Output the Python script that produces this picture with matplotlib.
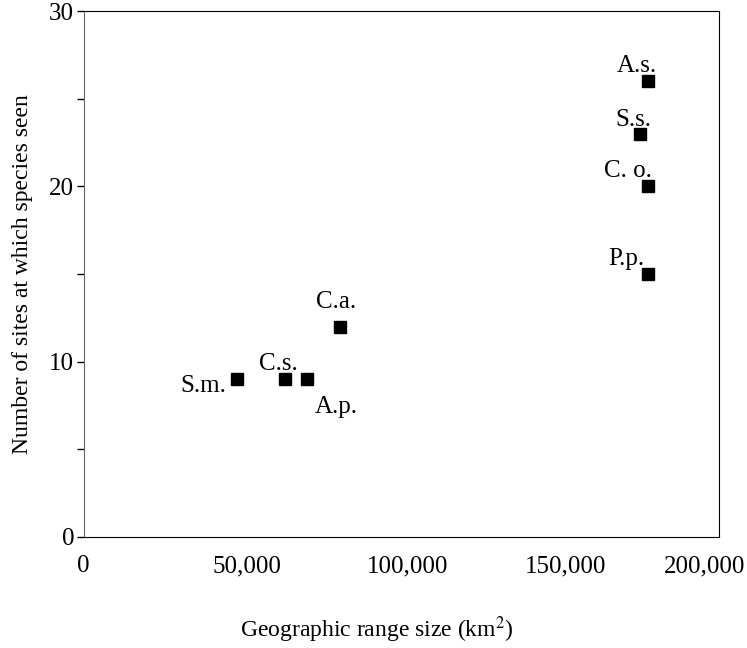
import matplotlib.pyplot as plt
from matplotlib.ticker import FuncFormatter
from matplotlib.transforms import ScaledTranslation

plt.rcParams['font.family'] = ['Liberation Serif', 'DejaVu Serif']
plt.rcParams['mathtext.fontset'] = 'stix'

species = ['A.s.', 'S.s.', 'C. o.', 'P.p.', 'C.a.', 'C.s.', 'A.p.', 'S.m.']
range_size = [177600, 175100, 177600, 177600, 80600, 63300, 70400, 48200]
sites = [26, 23, 20, 15, 12, 9, 9, 9]
# label offsets in pixels from the marker
offsets = [(-11, 9), (-7, 8), (-20, 9), (-22, 9), (-4, 19), (-7, 9), (29, -34), (-34, -13)]

x_ticks = [0, 50000, 100000, 150000, 200000]
# small horizontal nudges of the x tick labels, in pixels
x_label_shift = [-1, 4, 6, 5, -14]

fig = plt.figure(figsize=(7.47, 6.48), dpi=100)
ax = fig.add_axes([0.1124, 0.1713, 0.8501, 0.8117])

ax.plot(range_size, sites, 's', color='black', markersize=8, linestyle='none')

for name, x, y, off in zip(species, range_size, sites, offsets):
    ax.annotate(name, (x, y), xytext=off, textcoords='offset pixels',
                ha='center', va='baseline', fontsize=18)

ax.set_xlim(0, 200000)
ax.set_ylim(0, 30)
ax.set_xticks(x_ticks)
ax.xaxis.set_major_formatter(FuncFormatter(lambda v, p: f'{int(v):,}'))
ax.set_yticks([0, 10, 20, 30])
ax.set_yticks([5, 15, 25], minor=True)

ax.tick_params(axis='x', length=0, pad=13, labelsize=18)
ax.tick_params(axis='y', which='both', length=5, width=1, direction='out', pad=2, labelsize=18)
ax.spines['left'].set_color('#666666')

for lab, dx in zip(ax.get_xticklabels(), x_label_shift):
    lab.set_transform(lab.get_transform() + ScaledTranslation(dx / 100, 0, fig.dpi_scale_trans))

ax.set_xlabel('Geographic range size (km$^{2}$)', fontsize=17)
ax.xaxis.set_label_coords(0.461, -0.148)
ax.set_ylabel('Number of sites at which species seen', fontsize=17, labelpad=12)

fig.savefig('out.png', dpi=100)
